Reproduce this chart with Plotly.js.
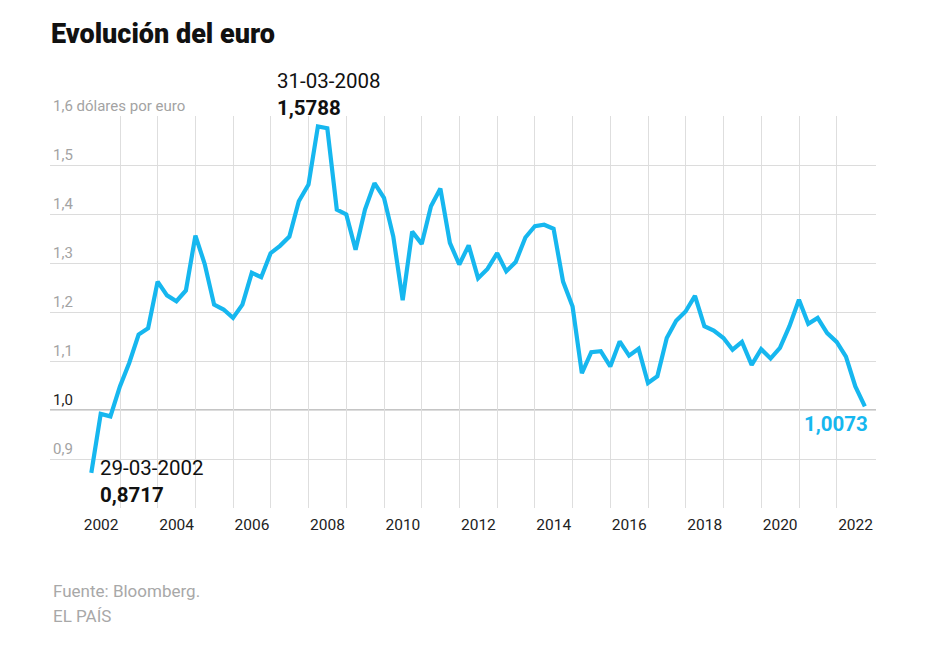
<!DOCTYPE html>
<html>
<head>
<meta charset="utf-8">
<script src="https://cdn.plot.ly/plotly-3.0.1.min.js"></script>
<style>
  html, body { margin: 0; padding: 0; background: #fff; }
  #chart { width: 952px; height: 645px; }
</style>
</head>
<body>
<div id="chart"></div>
<script>
// Quarterly EUR/USD close (dollars per euro)
const dates = [
  '2002-03-29','2002-06-28','2002-09-30','2002-12-31',
  '2003-03-31','2003-06-30','2003-09-30','2003-12-31',
  '2004-03-31','2004-06-30','2004-09-30','2004-12-31',
  '2005-03-31','2005-06-30','2005-09-30','2005-12-30',
  '2006-03-31','2006-06-30','2006-09-29','2006-12-29',
  '2007-03-30','2007-06-29','2007-09-28','2007-12-31',
  '2008-03-31','2008-06-30','2008-09-30','2008-12-31',
  '2009-03-31','2009-06-30','2009-09-30','2009-12-31',
  '2010-03-31','2010-06-30','2010-09-30','2010-12-31',
  '2011-03-31','2011-06-30','2011-09-30','2011-12-30',
  '2012-03-30','2012-06-29','2012-09-28','2012-12-31',
  '2013-03-29','2013-06-28','2013-09-30','2013-12-31',
  '2014-03-31','2014-06-30','2014-09-30','2014-12-31',
  '2015-03-31','2015-06-30','2015-09-30','2015-12-31',
  '2016-03-31','2016-06-30','2016-09-30','2016-12-30',
  '2017-03-31','2017-06-30','2017-09-29','2017-12-29',
  '2018-03-30','2018-06-29','2018-09-28','2018-12-31',
  '2019-03-29','2019-06-28','2019-09-30','2019-12-31',
  '2020-03-31','2020-06-30','2020-09-30','2020-12-31',
  '2021-03-31','2021-06-30','2021-09-30','2021-12-31',
  '2022-03-31','2022-06-30','2022-09-30'
];
const rates = [
  0.8717, 0.992, 0.987, 1.048,
  1.096, 1.154, 1.167, 1.262,
  1.234, 1.222, 1.244, 1.356,
  1.298, 1.215, 1.205, 1.188,
  1.215, 1.280, 1.271, 1.320,
  1.335, 1.354, 1.426, 1.460,
  1.5788, 1.575, 1.409, 1.399,
  1.327, 1.409, 1.463, 1.433,
  1.354, 1.224, 1.364, 1.339,
  1.416, 1.452, 1.341, 1.297,
  1.336, 1.269, 1.288, 1.320,
  1.283, 1.302, 1.352, 1.375,
  1.378, 1.370, 1.262, 1.211,
  1.075, 1.118, 1.120, 1.089,
  1.140, 1.111, 1.125, 1.055,
  1.069, 1.147, 1.182, 1.201,
  1.233, 1.171, 1.162, 1.147,
  1.123, 1.139, 1.092, 1.124,
  1.105, 1.127, 1.171, 1.225,
  1.176, 1.188, 1.157, 1.139,
  1.109, 1.048, 1.0073
];

// Axis ticks
const yTickVals = [0.9, 1.0, 1.1, 1.2, 1.3, 1.4, 1.5, 1.6];
const yTickText = ['0,9', '<span style="color:#222">1,0</span>', '1,1', '1,2', '1,3', '1,4', '1,5', '1,6 dólares por euro'];
const labelYears = [2002, 2004, 2006, 2008, 2010, 2012, 2014, 2016, 2018, 2020, 2022];
const gridYears = [2003, 2004, 2005, 2006, 2007, 2008, 2009, 2010, 2011, 2012, 2013,
                   2014, 2015, 2016, 2017, 2018, 2019, 2020, 2021, 2022];

const BLUE = '#16b7ef';
const FONT = 'Roboto, "Liberation Sans", Arial, sans-serif';

const fmtVal = v => v.toFixed(4).replace('.', ',');
const fmtDate = d => d.split('-').reverse().join('-');

const first = 0;
const last = rates.length - 1;
let peak = 0;
rates.forEach((v, i) => { if (v > rates[peak]) peak = i; });

const trace = {
  x: dates,
  y: rates,
  type: 'scatter',
  mode: 'lines',
  line: { color: BLUE, width: 4.2, shape: 'linear' },
  hoverinfo: 'skip'
};

// pixel helpers for the footer lines
const toPaperX = px => (px - 50) / 826;
const toPaperY = py => (508.3 - py) / 392;

const layout = {
  width: 952,
  height: 645,
  margin: { l: 50, r: 76, t: 116, b: 137 },
  paper_bgcolor: '#fff',
  plot_bgcolor: '#fff',
  showlegend: false,
  font: { family: FONT, color: '#222' },
  title: {
    text: 'Evolución del euro',
    font: { family: FONT, size: 27, color: '#111', weight: 900 },
    xref: 'container', yref: 'container',
    x: 51 / 952, xanchor: 'left',
    y: 1 - 34 / 645, yanchor: 'middle'
  },
  xaxis: {
    type: 'date',
    range: ['2001-02-22', '2023-01-16'],
    tickmode: 'array',
    tickvals: labelYears.map(y => y + '-07-02'),
    ticktext: labelYears.map(String),
    ticks: 'outside', ticklen: 2, tickcolor: 'rgba(0,0,0,0)',
    tickfont: { family: FONT, size: 15.5, color: '#222' },
    showgrid: false,
    zeroline: false,
    showline: false,
    minor: {
      tickmode: 'array',
      tickvals: gridYears.map(y => y + '-01-01'),
      showgrid: true,
      gridcolor: '#dedede',
      gridwidth: 1,
      ticks: ''
    },
    fixedrange: true
  },
  yaxis: {
    range: [0.8, 1.6],
    tickmode: 'array',
    tickvals: yTickVals,
    ticktext: yTickText,
    ticklabelposition: 'inside top',
    ticklabeloverflow: 'allow',
    tickfont: { family: FONT, size: 15, color: '#a3a3a3' },
    ticks: '',
    showgrid: true,
    gridcolor: '#dcdcdc',
    gridwidth: 1,
    zeroline: false,
    showline: false,
    fixedrange: true
  },
  shapes: [
    {
      type: 'line', xref: 'paper', yref: 'y',
      x0: 0, x1: 1, y0: 1.0, y1: 1.0,
      line: { color: '#8a8a8a', width: 1 },
      layer: 'below'
    }
  ],
  annotations: [
    {
      x: dates[peak], y: rates[peak], xref: 'x', yref: 'y',
      text: fmtDate(dates[peak]) + '<br><b>' + fmtVal(rates[peak]) + '</b>',
      showarrow: false, align: 'left',
      xanchor: 'left', yanchor: 'bottom',
      xshift: -43, yshift: 4,
      font: { family: FONT, size: 20.5, color: '#111' }
    },
    {
      x: dates[first], y: rates[first], xref: 'x', yref: 'y',
      text: fmtDate(dates[first]) + '<br><b>' + fmtVal(rates[first]) + '</b>',
      showarrow: false, align: 'left',
      xanchor: 'left', yanchor: 'top',
      xshift: 7, yshift: 19,
      font: { family: FONT, size: 20.5, color: '#111' }
    },
    {
      x: dates[last], y: rates[last], xref: 'x', yref: 'y',
      text: '<b>' + fmtVal(rates[last]) + '</b>',
      showarrow: false, align: 'right',
      xanchor: 'right', yanchor: 'top',
      xshift: 5, yshift: -4,
      font: { family: FONT, size: 20.5, color: BLUE }
    },
    {
      x: toPaperX(51), y: toPaperY(591), xref: 'paper', yref: 'paper',
      text: 'Fuente: Bloomberg.',
      showarrow: false, xanchor: 'left', yanchor: 'middle',
      font: { family: FONT, size: 17, color: '#a8a8a8' }
    },
    {
      x: toPaperX(51), y: toPaperY(616), xref: 'paper', yref: 'paper',
      text: 'EL PAÍS',
      showarrow: false, xanchor: 'left', yanchor: 'middle',
      font: { family: FONT, size: 17, color: '#a8a8a8' }
    }
  ]
};

Plotly.newPlot('chart', [trace], layout, { displayModeBar: false, staticPlot: true });
</script>
</body>
</html>
